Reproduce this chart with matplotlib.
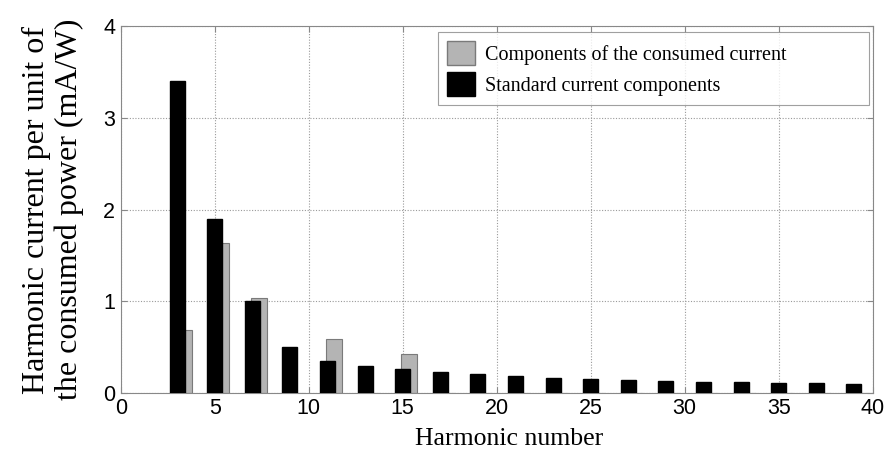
import numpy as np
import matplotlib.pyplot as plt
from matplotlib.patches import Patch

# odd harmonic orders 3..39
harmonics = [3, 5, 7, 9, 11, 13, 15, 17, 19, 21, 23, 25, 27, 29, 31, 33, 35, 37, 39]
# limits per unit of consumed power (mA/W)
standard = [3.40, 1.90, 1.00, 0.50, 0.35, 0.296, 0.257, 0.226, 0.203, 0.183,
            0.167, 0.154, 0.143, 0.133, 0.124, 0.117, 0.110, 0.104, 0.099]
# measured components of the consumed current (mA/W)
consumed = [0.69, 1.63, 1.04, 0.0, 0.59, 0.0, 0.42, 0.0, 0.0, 0.0,
            0.0, 0.0, 0.0, 0.0, 0.0, 0.0, 0.0, 0.0, 0.0]

serif = 'Liberation Serif'
sans = 'Liberation Sans'

fig = plt.figure(figsize=(8.95, 4.59), dpi=100)
ax = fig.add_axes([0.135, 0.144, 0.84, 0.799])

x = np.array(harmonics)
ax.bar(x + 0.35, consumed, width=0.85, color='#b4b4b4', edgecolor='#7a7a7a',
       linewidth=0.8, zorder=2)
ax.bar(x, standard, width=0.8, color='black', edgecolor='black', zorder=3)

ax.set_xlim(0, 40)
ax.set_ylim(0, 4)
ax.set_xticks(range(0, 41, 5))
ax.set_yticks(range(0, 5))
ax.grid(True, color='#9a9a9a', linestyle=(0, (1, 1.5)), linewidth=0.8, zorder=0)
ax.tick_params(direction='in', top=True, right=True, length=4, color='#888888',
               labelsize=15.5, pad=4)
for lbl in ax.get_xticklabels() + ax.get_yticklabels():
    lbl.set_fontfamily(sans)
for s in ax.spines.values():
    s.set_color('#888888')

ax.set_xlabel('Harmonic number', fontfamily=serif, fontsize=18.5)
ax.xaxis.set_label_coords(0.517, -0.097)
ax.set_ylabel('Harmonic current per unit of\nthe consumed power (mA/W)',
              fontfamily=serif, fontsize=23, linespacing=1.15, labelpad=14)

handles = [Patch(facecolor='#b4b4b4', edgecolor='#7a7a7a'),
           Patch(facecolor='black', edgecolor='black')]
leg = ax.legend(handles, ['Components of the consumed current',
                          'Standard current components'],
                loc='upper left', bbox_to_anchor=(0.4215, 0.5, 0.574, 0.484),
                mode='expand', borderaxespad=0,
                prop={'family': serif, 'size': 14.5},
                frameon=True, fancybox=False, edgecolor='#888888',
                handlelength=1.4, handleheight=1.45, handletextpad=0.5,
                borderpad=0.45, labelspacing=0.35)
leg.get_frame().set_linewidth(0.8)

fig.savefig('out.png', dpi=100)
